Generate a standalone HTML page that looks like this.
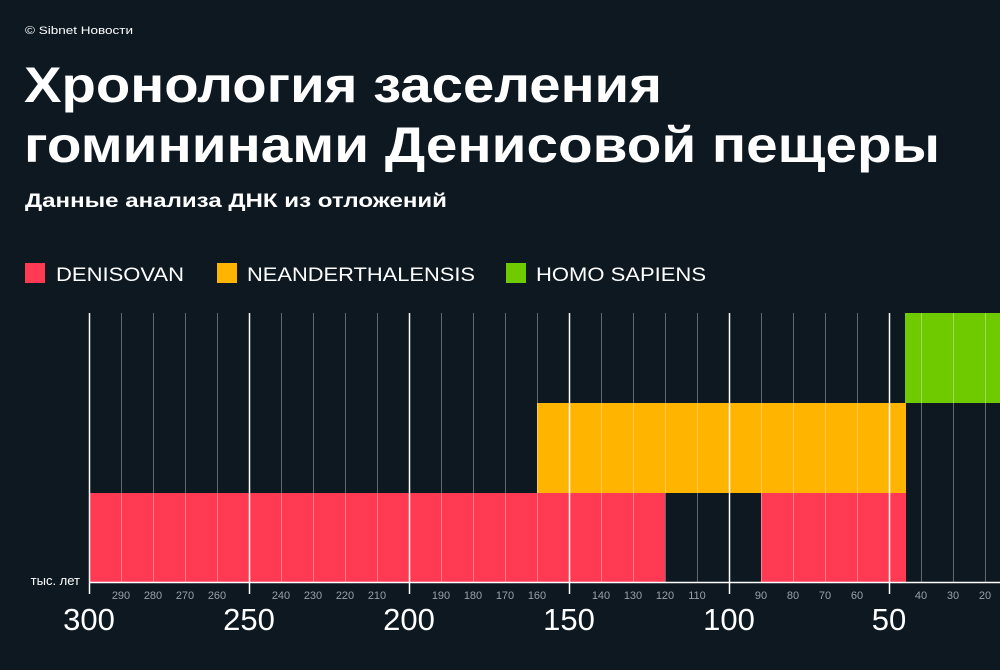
<!DOCTYPE html>
<html><head><meta charset="utf-8"><style>
html,body{margin:0;padding:0;background:#0e1820;}
svg{display:block;font-family:"Liberation Sans",sans-serif;}
</style></head><body>
<svg width="1000" height="670" viewBox="0 0 1000 670">
<rect width="1000" height="670" fill="#0e1820"/>
<text x="25" y="34" fill="#fff" font-size="11" textLength="108" lengthAdjust="spacingAndGlyphs">© Sibnet Новости</text>
<text x="24" y="102" fill="#fff" font-size="50" font-weight="bold" textLength="638" lengthAdjust="spacingAndGlyphs">Хронология заселения</text>
<text x="24" y="162" fill="#fff" font-size="50" font-weight="bold" textLength="916" lengthAdjust="spacingAndGlyphs">гомининами Денисовой пещеры</text>
<text x="25" y="207" fill="#fff" font-size="19" font-weight="bold" textLength="422" lengthAdjust="spacingAndGlyphs">Данные анализа ДНК из отложений</text>
<rect x="25" y="263" width="20" height="20" fill="#ff3a52"/>
<text x="56" y="281" fill="#fff" font-size="19" textLength="128" lengthAdjust="spacingAndGlyphs">DENISOVAN</text>
<rect x="217" y="263" width="20" height="20" fill="#ffb400"/>
<text x="247" y="281" fill="#fff" font-size="19" textLength="228" lengthAdjust="spacingAndGlyphs">NEANDERTHALENSIS</text>
<rect x="506" y="263" width="20" height="20" fill="#6fca00"/>
<text x="536" y="281" fill="#fff" font-size="19" textLength="170" lengthAdjust="spacingAndGlyphs">HOMO SAPIENS</text>
<rect x="905" y="313" width="95" height="90" fill="#6fca00"/>
<rect x="537" y="403" width="369" height="90" fill="#ffb400"/>
<rect x="89" y="493" width="576" height="89" fill="#ff3a52"/>
<rect x="761" y="493" width="145" height="89" fill="#ff3a52"/>
<g stroke="#ffffff" stroke-opacity="0.35" stroke-width="1">
<line x1="121.5" y1="313" x2="121.5" y2="582"/><line x1="153.5" y1="313" x2="153.5" y2="582"/><line x1="185.5" y1="313" x2="185.5" y2="582"/><line x1="217.5" y1="313" x2="217.5" y2="582"/>
<line x1="281.5" y1="313" x2="281.5" y2="582"/><line x1="313.5" y1="313" x2="313.5" y2="582"/><line x1="345.5" y1="313" x2="345.5" y2="582"/><line x1="377.5" y1="313" x2="377.5" y2="582"/>
<line x1="441.5" y1="313" x2="441.5" y2="582"/><line x1="473.5" y1="313" x2="473.5" y2="582"/><line x1="505.5" y1="313" x2="505.5" y2="582"/><line x1="537.5" y1="313" x2="537.5" y2="582"/>
<line x1="601.5" y1="313" x2="601.5" y2="582"/><line x1="633.5" y1="313" x2="633.5" y2="582"/><line x1="665.5" y1="313" x2="665.5" y2="582"/><line x1="697.5" y1="313" x2="697.5" y2="582"/>
<line x1="761.5" y1="313" x2="761.5" y2="582"/><line x1="793.5" y1="313" x2="793.5" y2="582"/><line x1="825.5" y1="313" x2="825.5" y2="582"/><line x1="857.5" y1="313" x2="857.5" y2="582"/>
<line x1="921.5" y1="313" x2="921.5" y2="582"/><line x1="953.5" y1="313" x2="953.5" y2="582"/><line x1="985.5" y1="313" x2="985.5" y2="582"/>
</g>
<g stroke="#ffffff" stroke-width="1.5">
<line x1="89.5" y1="313" x2="89.5" y2="594"/><line x1="249.5" y1="313" x2="249.5" y2="594"/><line x1="409.5" y1="313" x2="409.5" y2="594"/><line x1="569.5" y1="313" x2="569.5" y2="594"/><line x1="729.5" y1="313" x2="729.5" y2="594"/><line x1="889.5" y1="313" x2="889.5" y2="594"/>
<line x1="89" y1="582.5" x2="1000" y2="582.5"/>
</g>
<text x="80" y="585" fill="#fff" font-size="13" text-anchor="end">тыс. лет</text>
<g fill="#9aa0a6" font-size="11" text-anchor="middle">
<text x="121" y="599">290</text><text x="153" y="599">280</text><text x="185" y="599">270</text><text x="217" y="599">260</text>
<text x="281" y="599">240</text><text x="313" y="599">230</text><text x="345" y="599">220</text><text x="377" y="599">210</text>
<text x="441" y="599">190</text><text x="473" y="599">180</text><text x="505" y="599">170</text><text x="537" y="599">160</text>
<text x="601" y="599">140</text><text x="633" y="599">130</text><text x="665" y="599">120</text><text x="697" y="599">110</text>
<text x="761" y="599">90</text><text x="793" y="599">80</text><text x="825" y="599">70</text><text x="857" y="599">60</text>
<text x="921" y="599">40</text><text x="953" y="599">30</text><text x="985" y="599">20</text>
</g>
<g fill="#fff" font-size="31" text-anchor="middle">
<text x="89" y="630">300</text><text x="249" y="630">250</text><text x="409" y="630">200</text><text x="569" y="630">150</text><text x="729" y="630">100</text><text x="889" y="630">50</text>
</g>
</svg>
</body></html>
